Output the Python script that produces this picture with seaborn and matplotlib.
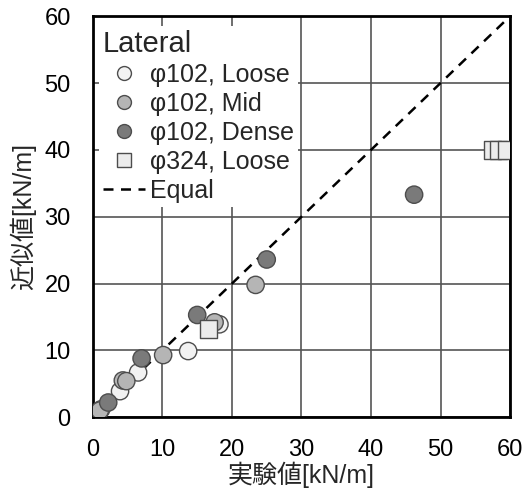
import matplotlib
matplotlib.use("Agg")
import matplotlib.pyplot as plt
import seaborn as sns
import pandas as pd
from matplotlib.lines import Line2D

sns.set_theme(style="white")
plt.rcParams['font.family'] = ['Liberation Sans', 'Noto Sans CJK JP']

# Data
loose_x = [0.7, 1.2, 3.9, 6.5, 13.7, 18.2]
loose_y = [0.5, 1.2, 3.9, 6.7, 9.9, 13.9]
mid_x = [1.0, 4.3, 4.8, 10.1, 17.5, 23.4]
mid_y = [1.0, 5.5, 5.4, 9.3, 14.2, 19.8]
dense_x = [2.2, 7.0, 15.0, 25.0, 46.2]
dense_y = [2.2, 8.8, 15.3, 23.6, 33.3]
sq_x = [16.6, 57.5, 58.3, 59.5]
sq_y = [13.2, 40.0, 40.0, 40.0]

labels = ["φ102, Loose", "φ102, Mid", "φ102, Dense", "φ324, Loose"]
equal_x = [0, 60]
equal_y = [0, 60]

rows = []
for lab, xs, ys in zip(labels, [loose_x, mid_x, dense_x, sq_x], [loose_y, mid_y, dense_y, sq_y]):
    for x, y in zip(xs, ys):
        rows.append({"x": x, "y": y, "g": lab})
df = pd.DataFrame(rows)

colors = {labels[0]: "#f2f2f2", labels[1]: "#b5b5b5", labels[2]: "#7a7a7a", labels[3]: "#ececec"}
markers = {labels[0]: "o", labels[1]: "o", labels[2]: "o", labels[3]: "s"}

fig = plt.figure(figsize=(5.28, 4.92), dpi=100)
ax = fig.add_axes([0.176, 0.152, 0.790, 0.815])

ax.grid(True, color="#555555", linewidth=1.2, zorder=0)
ax.set_axisbelow(True)

sns.lineplot(x=equal_x, y=equal_y, ax=ax, color="black", linestyle=(0, (4, 3)),
             linewidth=1.8, zorder=2, legend=False)

sns.scatterplot(data=df, x="x", y="y", hue="g", style="g", palette=colors, markers=markers,
                s=155, edgecolor="#4d4d4d", linewidth=1.0, ax=ax, zorder=3, legend=False)

ax.set_xlim(0, 60)
ax.set_ylim(0, 60)
ax.set_xticks(range(0, 61, 10))
ax.set_yticks(range(0, 61, 10))
ax.tick_params(labelsize=17, length=0, pad=16, colors="black")
for sp in ax.spines.values():
    sp.set_color("black")
    sp.set_linewidth(2)
    sp.set_visible(True)
ax.set_xlabel("実験値[kN/m]", fontsize=18, labelpad=0)
ax.set_ylabel("近似値[kN/m]", fontsize=18, labelpad=6)

handles = []
for lab in labels:
    handles.append(Line2D([], [], linestyle="none", marker=markers[lab], markersize=10,
                          markerfacecolor=colors[lab], markeredgecolor="#4d4d4d", markeredgewidth=1.0))
handles.append(Line2D([], [], color="black", linestyle=(0, (4, 3)), linewidth=1.8))
leg = ax.legend(handles, labels + ["Equal"], title="Lateral", loc="upper left",
                bbox_to_anchor=(0.015, 0.975), fontsize=18, title_fontsize=21,
                frameon=True, framealpha=1, edgecolor="white", fancybox=False,
                handlelength=1.7, handletextpad=0.2, labelspacing=0.2,
                borderpad=0.15, alignment="left", borderaxespad=0.0)
leg.get_frame().set_linewidth(0)
leg.set_zorder(5)

fig.savefig("out.png", dpi=100)
